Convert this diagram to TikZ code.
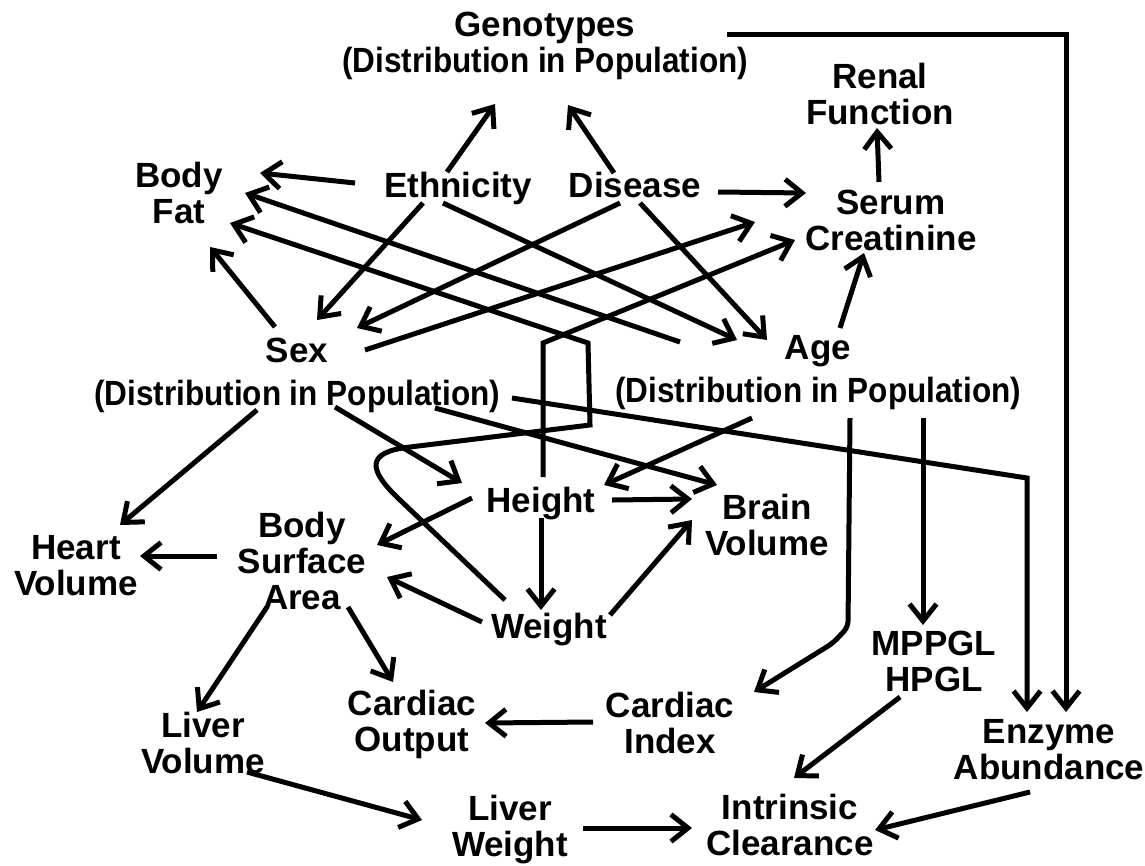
\documentclass[tikz,border=0pt]{standalone}
\usepackage{graphicx}
\usepackage{fontspec}
\setmainfont{Liberation Sans}
\usetikzlibrary{calc,arrows.meta}

\newcommand{\distpop}{\scalebox{0.9}[1]{(Distribution in Population)}}

\begin{document}
\begin{tikzpicture}[
	x=1pt, y=-1pt,
	factor/.style={ font=\bfseries\fontsize{35}{36}\selectfont, align=center, inner sep=0pt },
	link/.style={ line width=5pt, -{Straight Barb[length=17pt,width=27pt]} }
]

\useasboundingbox (0,0) rectangle (1145,865);

\node[factor] at (545,46) (geno) {Genotypes\\\distpop};
\node[factor] at (880,94) (renal) {Renal\\Function};
\node[factor] at (179,193) (fat) {Body\\Fat};
\node[factor] at (458,188) (ethn) {Ethnicity};
\node[factor] at (635,185) (dis) {Disease};
\node[factor] at (891,220) (serum) {Serum\\Creatinine};
\node[factor] at (297,375) (sex) {Sex\\[7pt]\distpop};
\node[factor] at (818,373) (age) {Age\\[7pt]\distpop};
\node[factor] at (541,504) (height) {Height};
\node[factor] at (767,525) (brain) {Brain\\Volume};
\node[factor] at (302,561) (bsa) {Body\\Surface\\Area};
\node[factor] at (76,566) (heart) {Heart\\Volume};
\node[factor] at (549,630) (weight) {Weight};
\node[factor] at (934,661) (mppgl) {MPPGL\\HPGL};
\node[factor] at (412,724) (cout) {Cardiac\\Output};
\node[factor] at (670,723) (cindex) {Cardiac\\Index};
\node[factor] at (203,743) (lvol) {Liver\\Volume};
\node[factor] at (1049,750) (enz) {Enzyme\\Abundance};
\node[factor] at (510,830) (lweight) {Liver\\Weight};
\node[factor] at (790,825) (clear) {Intrinsic\\Clearance};

\draw[link] ($(ethn)+(-11,-16)$) to ($(geno)+(-50,58)$);
\draw[link] ($(dis)+(-21,-12)$) to ($(geno)+(23,59)$);
\draw[link] ($(ethn)+(-103,-5)$) to ($(fat)+(81,-20)$);
\draw[link] ($(dis)+(83,7)$) to ($(serum)+(-85,-27)$);
\draw[link] ($(serum)+(-12,-38)$) to ($(renal)+(-3,34)$);
\draw[link] ($(age)+(22,-45)$) to ($(serum)+(-27,33)$);
\draw[link] ($(ethn)+(-35,15)$) to ($(sex)+(20,-55)$);
\draw[link] ($(ethn)+(-15,15)$) to ($(age)+(-81,-33)$);
\draw[link] ($(dis)+(-15,18)$) to ($(sex)+(60,-47)$);
\draw[link] ($(dis)+(5,18)$) to ($(age)+(-51,-33)$);
\draw[link] ($(age)+(-138,-31)$) to ($(fat)+(66,0)$);
\draw[link] ($(sex)+(-22,-48)$) to ($(fat)+(31,54)$);
\draw[link] ($(sex)+(68,-25)$) to ($(serum)+(-136,2)$);
\draw[link] ($(height)+(2,-27)$) -- (543,343) -- ($(serum)+(-96,20)$);
\draw[link] ($(weight)+(-44,-30)$) -- (400,500) .. controls (368,470) and (365,452) .. (410,447) -- (590,425) -- (588,343) -- ($(fat)+(51,30)$);

\draw[link] ($(sex)+(-40,35)$) to ($(heart)+(44,-41)$);
\draw[link] ($(sex)+(38,32)$) to ($(height)+(-79,-21)$);
\draw[link] ($(sex)+(138,33)$) to ($(brain)+(-50,-40)$);
\draw[link] ($(sex)+(215,23)$) -- ($(enz)+(-22,-272)$) -- ($(enz)+(-22,-38)$);
\draw[link] ($(geno)+(182,-12)$) -| ($(enz)+(17,-38)$);
\draw[link] ($(age)+(-66,45)$) to ($(height)+(63,-19)$);
\draw[link, rounded corners=6pt] ($(age)+(32,45)$) -- ($(cindex)+(178,-96)$) -- ($(cindex)+(163,-80)$) -- ($(cindex)+(84,-31)$);
\draw[link] ($(age)+(105,45)$) to ($(mppgl)+(-11,-36)$);
\draw[link] ($(height)+(71,-4)$) to ($(brain)+(-75,-26)$);
\draw[link] ($(height)+(0,14)$) to ($(weight)+(-8,-20)$);
\draw[link] ($(height)+(-69,-6)$) to ($(bsa)+(75,-16)$);
\draw[link] ($(weight)+(-67,-8)$) to ($(bsa)+(85,16)$);
\draw[link] ($(weight)+(61,-15)$) to ($(brain)+(-75,-5)$);
\draw[link] ($(bsa)+(-85,-5)$) to ($(heart)+(64,-10)$);
\draw[link] ($(bsa)+(-35,46)$) to ($(lvol)+(-6,-31)$);
\draw[link] ($(bsa)+(46,46)$) to ($(cout)+(-19,-42)$);
\draw[link] ($(cindex)+(-77,-1)$) to ($(cout)+(73,-1)$);
\draw[link] ($(lvol)+(44,29)$) to ($(lweight)+(-88,-10)$);
\draw[link] ($(lweight)+(73,-2)$) to ($(clear)+(-98,3)$);
\draw[link] ($(mppgl)+(-34,36)$) to ($(clear)+(4,-47)$);
\draw[link] ($(enz)+(-19,42)$) to ($(clear)+(85,5)$);

\end{tikzpicture}
\end{document}
